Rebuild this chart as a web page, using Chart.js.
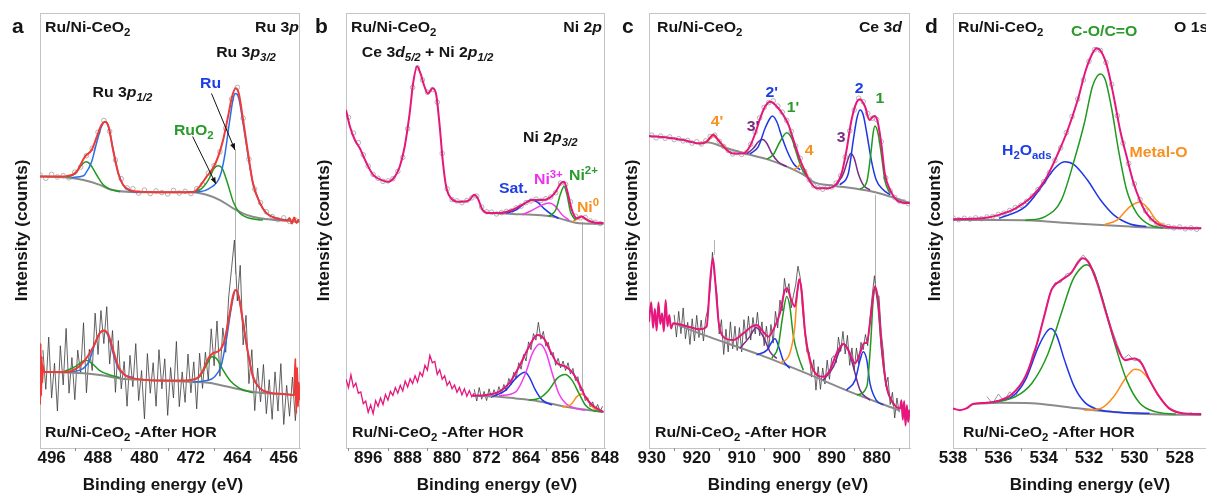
<!DOCTYPE html>
<html><head><meta charset="utf-8">
<script src="https://cdn.jsdelivr.net/npm/chart.js@4.4.0/dist/chart.umd.min.js"></script>
<style>
html,body{margin:0;padding:0;background:#fff;overflow:hidden;}
#wrap{position:relative;width:1206px;height:495px;overflow:hidden;background:#fff;}
canvas{position:absolute;top:0;}
</style></head><body><div id="wrap">
<canvas id="ca" width="305" height="495" style="left:0px;width:305px;height:495px"></canvas>
<canvas id="cb" width="315" height="495" style="left:305px;width:315px;height:495px"></canvas>
<canvas id="cc" width="305" height="495" style="left:610px;width:305px;height:495px"></canvas>
<canvas id="cd" width="305" height="495" style="left:912px;width:305px;height:495px"></canvas>
</div>
<script>
// ================= DATA =================
// ---- Panel a : Ru 3p ----
const aTicks = [496, 488, 480, 472, 464, 456];
const aMinor = [492, 484, 476, 468, 460];
const aTopRaw = [62.8,62.0,62.9,62.3,62.6,62.1,63.4,64.6,67.2,68.9,72.6,75.3,72.8,66.2,61.9,59.8,59.6,58.6,59.3,58.5,59.1,58.7,58.4,59.2,58.6,59.0,58.5,59.6,60.6,63.2,64.9,68.1,73.5,80.2,82.9,75.8,66.4,59.5,56.4,54.3,53.2,52.5,52.9,52.1,52.4]; // 498 -> 454 eV, 1 eV
const aTopEnv = [[498,62.4],[495.5,62.4],[493.4,62.5],[491.7,63.5],[490.25,67.0],[489.1,68.5],[488.2,71.6],[487.4,74.3],[486.8,75.0],[486.2,73.9],[485.4,68.5],[484.5,63.1],[483.7,60.5],[482.5,59.3],[480.8,58.9],[476,58.8],[471.6,58.8],[470.5,60.1],[469.3,62.4],[468.2,64.3],[467.3,67.0],[466.45,70.8],[465.6,76.2],[464.9,80.8],[464.3,82.7],[463.75,81.5],[463.0,75.4],[462.15,67.7],[461.3,60.8],[460.1,56.3],[459.0,54.0],[457.3,52.8],[455.4,52.3],[455.0,52.9],[454.6,51.6],[454.2,53.0],[453.8,51.7],[453.4,52.6]];
const aTopBg = [[498,62.4],[493.4,62.2],[490.5,61.6],[487.7,60.5],[486.0,59.5],[483.1,58.9],[480,58.8],[471.6,58.8],[469.3,58.2],[467.0,57.0],[464.7,55.1],[462.4,53.6],[460.1,52.8],[457.3,52.4],[453.25,52.0]];
const aTopRu1 = [[492.6,62.2],[490.5,62.6],[490.25,62.9],[489.1,65.8],[488.2,70.4],[487.4,73.9],[486.8,75.0],[486.2,73.9],[485.4,68.5],[484.5,63.1],[483.7,60.5],[482.5,59.1],[481,58.8]];
const aTopRu2 = [[472.2,58.8],[470.5,58.9],[468.8,59.7],[467.0,62.4],[466.2,67.0],[465.3,75.4],[464.7,80.4],[464.3,81.5],[463.75,80.4],[463.0,74.6],[462.15,67.3],[461.3,60.8],[460.1,56.3],[459.0,54.0],[457.3,52.8],[455.5,52.4]];
const aTopOx1 = [[493.4,62.2],[491.95,63.1],[490.8,65.1],[490.1,65.8],[489.4,65.3],[488.2,62.7],[487.1,60.5],[486.0,59.5],[484.25,58.9]];
const aTopOx2 = [[472.7,58.8],[470.5,59.3],[469.0,61.6],[468.0,64.3],[467.3,64.9],[466.6,64.3],[465.6,60.5],[464.7,56.6],[463.6,54.0],[461.9,52.8],[459.6,52.4]];
const aBotRaw = [22.5,13.5,25.5,11.5,19.5,8.5,23.5,14.5,27.5,12.6,20.8,11.1,22.5,17.1,28.8,12.7,22.7,17.8,31.0,21.5,31.6,24.0,32.5,19.3,27.0,12.8,24.7,13.6,19.9,9.6,21.3,14.1,24.0,10.9,17.8,6.7,21.7,12.6,19.6,9.6,22.6,13.6,20.5,7.5,18.5,11.5,24.5,9.5,17.5,10.5,21.6,12.7,19.8,9.0,21.8,13.7,22.0,15.6,27.4,18.9,29.2,16.5,27.6,22.0,34.5,41.2,47.8,33.8,42.0,23.7,30.5,14.8,22.6,8.6,18.4,10.6,19.2,7.9,15.7,6.6,17.5,8.5,19.4,5.4,14.4,7.3,16.3,6.3,15.2]; // 497.5 -> 453.5, 0.5 eV
const aBotEnv = [[498.0,10],[497.9,24],[497.8,12],[497.7,21],[497.6,15],[497.5,19],[497.4,17.5],[493.4,17.5],[491.7,18.3],[490.25,20.2],[488.8,23.3],[487.7,26.4],[487.0,27.0],[486.2,26.0],[485.4,22.5],[484.5,18.7],[483.4,16.8],[481.9,16.0],[479.1,15.6],[473.3,15.5],[471.0,16.0],[469.9,17.9],[469.0,20.6],[468.2,21.8],[467.0,22.5],[466.2,24.8],[465.3,31.0],[464.7,35.2],[464.3,36.3],[463.75,34.8],[463.0,28.7],[462.15,21.8],[461.3,16.4],[460.1,13.7],[458.4,12.7],[456.1,12.4],[454.2,12.2],[454.0,20.5],[453.85,8.0],[453.7,18.5],[453.55,9.5],[453.4,15],[453.25,11]];
const aBotBg = [[497.4,17.5],[490.5,17.2],[487.7,16.8],[484.25,16.0],[479.1,15.6],[471.6,15.2],[469.0,15.0],[467.0,14.5],[463.0,13.3],[460.1,12.7],[456.1,12.4],[453.8,12.2]];
const aBotRu1 = [[493.4,17.5],[491.1,17.9],[489.6,19.8],[488.5,24.1],[487.7,26.4],[487.0,27.0],[486.2,25.6],[485.4,21.8],[484.5,18.3],[483.4,16.8],[481.9,16.2]];
const aBotRu2 = [[471.6,15.2],[469.3,15.5],[467.9,16.4],[466.75,19.1],[465.9,24.8],[465.0,32.5],[464.3,36.3],[463.75,34.8],[463.0,28.7],[462.15,21.8],[461.3,16.4],[460.1,13.7],[458.4,12.7]];
const aBotOx1 = [[494.0,17.5],[491.95,18.7],[490.8,19.8],[490.1,20.2],[489.1,19.5],[487.7,17.8],[486.0,16.8],[484.25,16.2]];
const aBotOx2 = [[472.7,15.5],[470.5,16.4],[469.3,19.1],[468.4,21.0],[467.6,20.6],[466.45,17.9],[465.3,15.6],[463.6,13.7],[461.3,12.7]];

// ---- Panel b : Ni 2p ----
const bTicks = [896, 888, 880, 872, 864, 856, 848];
const bMinor = [900, 892, 884, 876, 868, 860, 852];
const bTopRaw = [76.0,72.4,70.2,67.4,64.8,62.9,62.0,61.3,61.4,61.9,63.6,66.8,73.4,82.9,87.4,84.6,81.8,82.4,79.5,67.7,59.6,57.1,56.8,56.4,56.9,57.5,57.9,55.4,54.3,54.2,53.8,54.1,54.4,54.5,55.2,55.6,56.4,56.8,57.2,56.9,57.3,57.7,58.7,60.9,60.6,56.6,53.3,52.9,53.0,52.2,51.9,51.6]; // 900 -> 849, 1 eV
const bTopEnv = [[900.5,77.7],[899.7,73.9],[898.7,70.8],[897.7,68.9],[896.3,65.4],[895.0,62.8],[893.3,61.6],[892.0,61.2],[890.6,62.4],[889.6,64.7],[888.6,69.3],[887.6,76.9],[886.9,83.8],[886.1,87.7],[885.4,86.1],[884.6,83.1],[883.9,81.5],[882.9,82.7],[882.2,81.1],[881.5,73.9],[880.9,66.2],[880.2,60.1],[879.2,57.4],[877.5,56.6],[875.5,57.0],[874.5,58.2],[873.8,57.4],[872.8,54.7],[871.5,54.0],[869.5,54.0],[866.8,54.7],[864.8,55.9],[862.7,57.0],[861.0,57.0],[859.4,57.4],[858.0,58.9],[857.0,60.8],[856.3,61.2],[855.7,59.3],[854.7,54.7],[853.7,52.8],[852.7,53.2],[851.6,52.4],[849.9,51.8],[848.3,51.7]];
const bTopBg = [[871.5,54.0],[868,53.9],[866.8,53.8],[862.7,53.6],[858.7,53.2],[856.0,52.4],[854.0,51.8],[848.3,51.5]];
const bTopSat = [[868.1,54.0],[866.1,54.7],[864.4,56.1],[863.0,57.0],[861.7,56.5],[860.4,55.1],[858.7,53.6],[857.4,52.8]];
const bTopNi3 = [[864.8,53.6],[862.7,54.7],[860.7,55.9],[859.4,56.3],[858.0,55.5],[856.7,53.6],[855.3,52.4]];
const bTopNi2 = [[859.4,53.2],[858.0,54.7],[857.0,58.5],[856.3,60.1],[855.7,58.2],[855.0,54.3],[854.0,52.4]];
const bTopNi0 = [[854.7,52.0],[853.3,52.8],[852.7,53.2],[851.8,52.6],[850.6,51.8]];
const bBotPink = [15.8,13.9,16.8,14.0,14.9,12.6,12.9,10.2,10.8,8.2,9.9,7.9,10.9,9.6,11.5,10.0,12.3,11.0,13.0,12.1,13.9,12.6,14.4,13.1,15.4,14.0,15.9,14.8,16.6,15.2,17.4,16.5,19.0,17.9,21.3,19.6,19.9,16.9,18.0,15.8,16.6,14.4,15.3,13.6,14.5,12.8,13.9,12.2,13.6,11.9,13.2,11.8,12.6]; // 900.5 -> 874.5, 0.5 eV
const bBotRaw = [13.5,10.8,13.9,11.2,13.0,10.9,13.6,11.5,13.4,12.0,14.1,12.5,14.6,13.2,16.0,14.6,17.4,16.0,19.6,18.1,21.5,20.0,24.4,22.6,26.3,24.8,28.9,25.0,26.8,23.4,24.3,21.4,22.0,19.0,20.6,18.4,20.0,17.8,19.6,17.0,18.3,15.5,16.4,13.2,13.6,10.9,11.6,9.5,10.6,8.8,10.0,8.4,9.6]; // 874.5 -> 848.5, 0.5 eV
const bBotEnv = [[874.8,12.0],[872.1,12.2],[869.5,12.9],[867.4,14.9],[865.4,18.7],[863.4,23.3],[861.7,26.0],[860.4,25.2],[859.0,22.1],[857.7,19.5],[856.0,18.7],[854.7,17.5],[853.3,14.9],[852.0,11.8],[850.6,9.9],[849.3,8.9],[848.3,8.3]];
const bBotBg = [[874.8,12.0],[869.5,11.8],[866.1,11.4],[862.7,11.0],[859.4,10.3],[856.0,9.5],[852.7,8.9],[848.3,8.3]];
const bBotSat = [[870.8,11.8],[868.1,13.3],[866.1,16.0],[864.8,17.2],[864.2,17.4],[863.4,16.4],[862.1,13.3],[860.7,11.0],[858.7,9.9]];
const bBotNi3 = [[869.5,12.0],[866.1,12.9],[864.1,17.2],[862.7,21.8],[861.2,23.9],[860.0,22.1],[858.7,17.2],[857.4,12.6],[856.0,10.3],[854.0,9.1],[852.0,8.7]];
const bBotNi2 = [[863.4,11.0],[861.4,11.4],[859.4,13.3],[857.7,16.0],[856.1,16.9],[854.7,15.6],[853.3,12.6],[852.0,9.9],[850.6,8.7],[848.6,8.3]];
const bBotNi0 = [[856.7,9.5],[855.0,9.9],[853.7,11.8],[852.8,12.4],[851.8,11.7],[850.6,9.5],[849.3,8.6]];

// ---- Panel c : Ce 3d ----
const cTicks = [930, 920, 910, 900, 890, 880];
const cMinor = [925, 915, 905, 895, 885, 875];
const cTopRaw = [71.9,71.3,71.7,71.2,71.5,70.9,71.1,70.6,70.7,70.1,70.4,69.9,70.6,71.6,71.9,70.5,69.3,68.4,67.6,67.9,67.5,67.9,69.8,72.6,75.9,78.3,79.4,79.8,78.6,77.2,75.3,72.8,69.4,66.6,63.6,61.7,60.3,59.8,59.5,59.9,60.0,60.9,62.6,66.9,72.9,77.7,80.4,79.6,76.9,75.8,75.5,70.4,62.1,59.1,57.6,56.8,56.6,56.2]; // 930 -> 873, 1 eV
const cTopEnv = [[930.6,71.7],[926.7,71.4],[923.0,70.8],[919.3,70.0],[917.8,70.4],[916.3,72.0],[915.2,70.8],[913.7,68.9],[911.9,67.7],[909.6,67.7],[908.2,69.3],[907.0,72.3],[905.9,75.8],[904.8,78.5],[903.6,79.6],[902.2,78.5],[900.8,76.6],[899.6,74.3],[898.5,70.8],[897.4,67.4],[896.7,65.4],[895.9,63.5],[894.8,61.2],[893.3,59.7],[891.1,59.7],[888.9,60.8],[887.8,63.1],[886.7,68.5],[885.6,75.4],[884.4,79.6],[883.7,80.2],[882.6,78.5],[881.6,75.4],[880.8,76.2],[880.4,76.3],[879.7,74.6],[878.9,69.3],[878.2,63.1],[877.0,59.3],[875.6,57.0],[874.1,56.4],[872.6,56.3]];
const cTopBg = [[919.3,70.0],[917.8,70.3],[913.3,68.9],[908.9,67.6],[904.4,66.4],[900.0,64.7],[895.6,62.4],[894.1,61.2],[889.6,60.3],[885.2,59.7],[880.8,58.9],[877.0,57.8],[872.6,56.3]];
const cTop4p = [[919.3,69.9],[917.4,70.8],[916.3,71.7],[915.2,70.6],[913.3,68.9]];
const cTop3p = [[908.9,67.6],[907.4,68.9],[906.3,70.4],[905.3,70.9],[904.4,70.0],[903.3,67.7],[901.9,65.8],[900.0,64.7]];
const cTop2p = [[908.2,67.6],[906.3,69.3],[904.8,73.5],[903.7,75.8],[903.2,76.3],[902.2,75.0],[901.1,71.6],[900.0,68.5],[898.5,65.4],[897.0,63.9]];
const cTop1p = [[904.4,66.4],[903.0,67.4],[901.5,70.4],[900.0,72.5],[898.9,71.2],[897.8,67.7],[896.7,64.3],[895.6,62.5]];
const cTop4 = [[898.5,63.9],[897.4,64.7],[896.8,65.4],[896.2,64.3],[895.2,62.4]];
const cTop3 = [[888.9,60.5],[887.4,63.1],[886.3,66.6],[885.8,67.7],[885.0,66.6],[884.1,63.1],[883.0,60.5],[881.5,59.3]];
const cTop2 = [[888.2,60.5],[886.3,63.1],[885.2,70.8],[884.4,75.8],[883.7,77.7],[883.0,76.6],[882.2,72.3],[881.2,66.2],[880.1,61.6],[878.5,59.3],[877.0,58.2]];
const cTop1 = [[883.7,59.5],[882.2,61.2],[881.3,67.7],[880.8,72.3],[880.4,74.0],[879.7,72.3],[878.9,67.0],[878.2,61.6],[877.0,58.5]];
const cBotRaw = [30.6,25.5,31.4,26.3,32.2,25.1,28.9,23.8,29.7,24.6,30.5,25.4,29.4,24.6,29.8,32.0,36.6,45.0,39.0,35.5,26.2,29.5,21.5,27.3,22.1,29.0,22.8,28.0,22.4,27.7,22.1,29.5,24.9,30.3,24.8,30.0,26.2,31.2,25.8,29.0,23.5,28.0,22.7,28.4,24.1,31.4,27.6,34.0,31.5,39.0,35.7,37.8,32.2,35.1,37.5,41.8,39.2,32.0,27.0,22.0,22.0,16.3,20.3,13.3,18.7,13.5,18.4,14.7,20.2,15.8,20.7,21.2,19.6,25.5,22.2,26.8,21.6,25.9,19.0,23.0,17.8,23.0,19.3,24.3,22.6,26.1,23.5,29.7,35.0,39.6,34.5,35.0,26.6,22.0,14.2,16.3,10.0,12.8,6.9,11.5,8.2]; // 925 -> 875, 0.5 eV
const cBotEnv = [[930.6,29.0],[930.1,33.5],[929.7,27.6],[929.3,32.0],[928.9,27.0],[928.5,33.5],[928.1,28.5],[927.7,31.0],[927.3,26.8],[926.9,34.0],[926.5,28.0],[926.1,30.6],[925.7,27.5],[925.2,28.7],[922.2,28.0],[919.3,27.3],[917.8,27.9],[917.0,38.6],[916.4,43.6],[915.9,38.6],[915.1,28.7],[914.1,25.6],[911.9,24.8],[909.6,26.4],[907.8,27.9],[906.7,28.3],[905.2,26.7],[904.1,25.6],[903.0,27.1],[901.5,31.0],[900.4,36.3],[899.9,36.7],[899.1,34.4],[898.2,32.5],[897.6,36.3],[897.2,38.8],[896.7,36.3],[895.9,26.4],[894.8,20.2],[893.3,16.8],[891.9,16.4],[890.4,17.9],[888.9,21.8],[887.4,23.9],[886.3,22.5],[884.8,19.5],[883.7,21.8],[882.8,24.1],[882.2,24.2],[881.5,28.7],[880.8,34.8],[880.4,37.1],[879.7,34.0],[878.9,23.3],[877.8,14.1],[876.3,10.3],[874.8,9.1],[874.5,11.0],[874.2,6.5],[873.9,10.8],[873.6,5.2],[873.3,9.8],[873.0,6.0],[872.7,8.8]];
const cBotBg = [[925.2,28.7],[918.5,26.0],[905.9,21.4],[894.8,16.8],[885.9,12.9],[874.8,8.6]];
const cBot3p = [[910.4,22.9],[908.2,25.6],[906.8,27.7],[905.2,25.6],[903.7,22.1],[902.2,20.6]];
const cBot2p = [[906.7,21.4],[904.4,22.5],[903.1,24.7],[902.6,25.1],[901.9,23.7],[900.8,20.2],[899.3,18.3]];
const cBot1p = [[903.3,20.6],[901.9,23.3],[900.9,30.2],[900.0,34.8],[899.3,32.5],[898.5,25.6],[897.4,21.0],[896.3,17.9]];
const cBot4 = [[901.5,19.5],[899.3,21.8],[898.2,27.9],[897.6,36.3],[897.2,38.8],[896.7,36.3],[895.9,26.4],[894.8,19.5],[893.3,16.8]];
const cBot3 = [[891.9,15.6],[889.6,18.7],[888.2,22.5],[887.4,23.9],[886.3,22.5],[885.2,18.7],[883.7,13.3],[881.5,11.0]];
const cBot2 = [[886.7,13.3],[884.8,15.6],[883.7,20.2],[883.0,22.1],[882.2,20.2],[881.5,14.9],[880.1,11.0],[878.5,9.9]];
const cBot1 = [[884.4,12.2],[882.2,14.1],[881.3,24.8],[880.8,34.0],[880.4,36.7],[879.7,32.5],[878.9,22.5],[877.8,14.1],[876.3,9.9]];

// ---- Panel d : O 1s ----
const dTicks = [538, 536, 534, 532, 530, 528];
const dMinor = [537, 535, 533, 531, 529];
const dTopRaw = [52.9,52.5,52.8,52.6,52.9,52.7,53.1,53.2,53.7,54.0,54.6,55.3,55.8,56.7,57.9,59.4,61.2,63.3,66.1,69.0,72.5,76.2,80.2,84.6,88.9,91.6,91.4,88.6,83.6,76.4,70.1,65.4,60.7,57.1,54.5,52.7,51.6,51.2,50.9,50.6,50.8,50.4,50.6,50.3]; // 538 -> 527.25, 0.25 eV
const dTopEnv = [[538.0,52.6],[536.7,52.8],[535.97,53.6],[535.24,55.1],[534.52,57.8],[533.94,61.6],[533.37,67.7],[532.94,73.1],[532.5,80.0],[532.14,86.9],[531.85,90.7],[531.67,91.9],[531.46,91.1],[531.2,87.7],[530.91,80.8],[530.63,73.1],[530.34,67.0],[530.05,61.2],[529.76,57.0],[529.47,54.0],[529.04,51.7],[528.61,50.9],[527.89,50.6],[527.05,50.5]];
const dTopBg = [[538.0,52.4],[535.97,52.4],[534.52,52.3],[533.08,51.8],[531.64,51.3],[530.19,50.9],[528.75,50.6],[527.05,50.5]];
const dTopH2O = [[535.97,52.8],[534.81,55.5],[534.09,60.1],[533.51,64.3],[533.08,65.8],[532.65,65.1],[532.07,61.6],[531.49,57.0],[530.91,53.6],[530.19,51.5],[529.47,50.9]];
const dTopCO = [[534.81,52.3],[533.94,53.2],[533.22,57.0],[532.65,66.2],[532.21,74.6],[531.85,83.1],[531.64,85.5],[531.49,86.0],[531.28,84.6],[530.99,77.7],[530.70,68.5],[530.34,59.3],[529.90,54.0],[529.33,51.3],[528.75,50.6]];
const dTopMO = [[531.35,51.3],[530.77,52.4],[530.19,55.5],[529.76,56.5],[529.40,55.1],[529.04,52.4],[528.61,50.9]];
const dBotRaw = [11.8,10.2,12.4,10.8,12.9,11.7,14.6,16.2,21.4,24.6,30.2,35.2,38.0,38.0,40.0,40.4,43.0,44.4,42.8,40.3,35.8,31.5,27.4,23.8,20.4,21.5,20.0,20.4,17.6,15.0,12.3,10.8,9.0,8.6,8.2,7.7,8.1,7.6]; // 536.5 -> 527.25, 0.25 eV
const dBotEnv = [[538.0,9.1],[537.7,8.7],[537.41,9.1],[537.12,10.1],[536.54,10.4],[535.97,10.9],[535.39,12.4],[534.81,16.4],[534.38,22.5],[533.94,31.0],[533.66,36.3],[533.22,38.6],[532.79,40.2],[532.5,42.5],[532.29,43.6],[532.0,42.5],[531.64,37.9],[531.2,30.2],[530.77,23.3],[530.41,20.2],[530.02,20.6],[529.69,19.5],[529.33,15.6],[528.9,11.8],[528.46,9.1],[527.89,8.0],[527.05,7.8]];
const dBotBg = [[537.12,10.1],[535.97,10.4],[534.52,10.3],[533.08,9.5],[531.64,8.6],[530.19,8.0],[528.75,7.7],[527.05,7.6]];
const dBotH2O = [[536.26,10.6],[535.39,11.8],[534.81,15.6],[534.23,23.3],[533.87,26.7],[533.68,27.5],[533.44,26.0],[533.08,20.2],[532.65,14.1],[532.21,10.6],[531.64,8.9],[530.91,8.3],[529.33,8.0]];
const dBotCO = [[536.26,10.4],[535.24,11.8],[534.52,14.9],[533.80,21.8],[533.22,31.0],[532.72,38.6],[532.29,41.7],[532.10,42.1],[531.78,40.2],[531.35,33.3],[530.91,24.8],[530.34,15.6],[529.76,10.3],[529.04,8.3],[528.17,7.8]];
const dBotMO = [[532.21,8.7],[531.49,9.1],[530.91,11.8],[530.34,16.4],[529.98,18.1],[529.76,17.9],[529.33,15.6],[528.90,11.8],[528.46,9.1],[528.03,8.1]];

// ================= STYLE / HELPERS =================
const FONT = '"Liberation Sans", Arial, Helvetica, sans-serif';
Chart.defaults.font.family = FONT;
const TXT = '#151515', BORDER = '#c4c4c4';
const RED = '#ef3a37', PINK = '#e5167c', BLUEA = '#2a6de4', BLUE = '#1f37e6', GREEN = '#1f991f',
      MAG = '#f23cf0', ORANGE = '#ff8b1a', PURPLE = '#7a2a88', GRAY = '#8b8b8b', RAWC = '#a9a9a9', NOISE = '#3c3c3c';
const LBLUE = '#1d3ee6', LGREEN = '#2a9a2a', LORANGE = '#f8901f', LPURPLE = '#7a2a84', LMAG = '#ee2ef0';
const SX = 1.13;

const pts = arr => arr.map(([x, y]) => ({x, y}));
const grid = (x0, dx, ys) => ys.map((y, i) => ({x: Math.round((x0 + i * dx) * 100) / 100, y}));
const L = (arr, color, w) => ({data: pts(arr), borderColor: color, backgroundColor: color, borderWidth: w, pointRadius: 0, fill: false, cubicInterpolationMode: 'monotone'});
const N = (data, color, w) => ({data, borderColor: color, backgroundColor: color, borderWidth: w, pointRadius: 0, fill: false, tension: 0});
const C = (data) => ({data, showLine: false, pointRadius: 2.3, pointStyle: 'circle', borderColor: RAWC, backgroundColor: 'rgba(255,255,255,0)', borderWidth: 0.9});

function drawRich(ctx, parts, x, y, size, color, align, sx) {
  ctx.save();
  ctx.translate(x, y);
  ctx.scale(sx, 1);
  let w = 0;
  const segs = parts.map(p => {
    const txt = p[0], st = p[1] || '';
    const small = st.includes('sub') || st.includes('sup');
    const s = small ? size * 0.72 : size;
    const font = (st.startsWith('i') ? 'italic ' : '') + 'bold ' + s + 'px ' + FONT;
    ctx.font = font;
    const mw = ctx.measureText(txt).width;
    const dy = st.includes('sub') ? size * 0.28 : (st.includes('sup') ? -size * 0.42 : 0);
    const seg = {txt, font, x: w, dy};
    w += mw;
    return seg;
  });
  const ox = align === 'center' ? -w / 2 : (align === 'right' ? -w : 0);
  ctx.fillStyle = color; ctx.textBaseline = 'alphabetic'; ctx.textAlign = 'left';
  segs.forEach(s => { ctx.font = s.font; ctx.fillText(s.txt, ox + s.x, s.dy); });
  ctx.restore();
}
function arrow(ctx, x0, y0, x1, y1) {
  ctx.beginPath(); ctx.moveTo(x0, y0); ctx.lineTo(x1, y1); ctx.stroke();
  const ang = Math.atan2(y1 - y0, x1 - x0), Lh = 7;
  ctx.beginPath(); ctx.moveTo(x1, y1);
  ctx.lineTo(x1 - Lh * Math.cos(ang - 0.38), y1 - Lh * Math.sin(ang - 0.38));
  ctx.lineTo(x1 - Lh * Math.cos(ang + 0.38), y1 - Lh * Math.sin(ang + 0.38));
  ctx.closePath(); ctx.fill();
}
function makeDeco(cfg) {
  return {
    id: 'deco',
    beforeDatasetsDraw(chart) {
      const {ctx, chartArea: a, scales: {x, y}} = chart;
      ctx.save();
      ctx.strokeStyle = BORDER; ctx.lineWidth = 1;
      ctx.beginPath();
      ctx.moveTo(a.left, a.top + 0.5); ctx.lineTo(a.right, a.top + 0.5);
      ctx.moveTo(a.right - 0.5, a.top); ctx.lineTo(a.right - 0.5, a.bottom);
      ctx.stroke();
      // minor tick marks below the axis
      ctx.strokeStyle = '#8f8f8f';
      ctx.beginPath();
      (cfg.minor || []).forEach(e => {
        const px = Math.round(x.getPixelForValue(e)) + 0.5;
        if (px >= a.left && px <= a.right) { ctx.moveTo(px, a.bottom); ctx.lineTo(px, a.bottom + 3); }
      });
      ctx.stroke();
      ctx.strokeStyle = '#b2b2b2';
      (cfg.vlines || []).forEach(([e, v0, v1]) => {
        const px = Math.round(x.getPixelForValue(e)) + 0.5;
        ctx.beginPath(); ctx.moveTo(px, y.getPixelForValue(v0)); ctx.lineTo(px, y.getPixelForValue(v1)); ctx.stroke();
      });
      ctx.restore();
    },
    afterDraw(chart) {
      const {ctx, chartArea: a, scales: {x, y}} = chart;
      ctx.save();
      ctx.strokeStyle = '#111'; ctx.fillStyle = '#111'; ctx.lineWidth = 1;
      (cfg.arrows || []).forEach(([e0, v0, e1, v1]) => arrow(ctx, x.getPixelForValue(e0), y.getPixelForValue(v0), x.getPixelForValue(e1), y.getPixelForValue(v1)));
      (cfg.labels || []).forEach(l => {
        const px = l.e !== undefined ? x.getPixelForValue(l.e) : l.px - cfg.left;
        const py = l.v !== undefined ? y.getPixelForValue(l.v) : l.py;
        drawRich(ctx, l.t, px, py, l.s || 14, l.c || TXT, l.a || 'left', l.sx || SX);
      });
      ctx.font = 'bold 17px ' + FONT; ctx.fillStyle = TXT; ctx.textAlign = 'center'; ctx.textBaseline = 'middle';
      ctx.fillText('Binding energy (eV)', cfg.xtCenter - cfg.left, 485);
      ctx.restore();
    }
  };
}
function makePanel(cfg) {
  return new Chart(document.getElementById(cfg.id), {
    type: 'line',
    data: {datasets: cfg.datasets},
    options: {
      responsive: false, animation: false, devicePixelRatio: 1, events: [],
      layout: {padding: {top: 13, right: cfg.padR, bottom: 0, left: 0}},
      plugins: {legend: {display: false}, tooltip: {enabled: false}},
      scales: {
        x: {type: 'linear', reverse: true, min: cfg.xmin, max: cfg.xmax,
            afterBuildTicks: s => { s.ticks = cfg.ticks.map(v => ({value: v})); },
            afterFit: s => { s.height = 47; s.paddingLeft = 0; s.paddingRight = 0; },
            ticks: {autoSkip: false, maxRotation: 0, padding: 0, color: TXT, font: {size: 17, weight: 'bold'}},
            grid: {display: false, drawTicks: false},
            border: {display: true, color: BORDER, width: 1}},
        y: {min: 0, max: 100,
            afterFit: s => { s.width = cfg.yw; s.paddingTop = 0; s.paddingBottom = 0; },
            ticks: {display: false}, grid: {display: false, drawTicks: false},
            border: {display: true, color: BORDER, width: 1},
            title: {display: true, text: 'Intensity (counts)', color: TXT, font: {size: 17, weight: 'bold'}, padding: {top: cfg.ytp, bottom: 0}}}
      }
    },
    plugins: [makeDeco(cfg)]
  });
}
const CEO = [['Ru/Ni-CeO'], ['2', 'sub']];
const HOR = [['Ru/Ni-CeO'], ['2', 'sub'], [' -After HOR']];

// ================= PANELS =================
makePanel({
  id: 'ca', left: 0, yw: 40, padR: 5, ytp: 12, xmin: 453.2, xmax: 498, ticks: aTicks, minor: aMinor, xtCenter: 163,
  datasets: [
    L(aTopEnv, RED, 2), L(aTopRu1, BLUEA, 1.5), L(aTopRu2, BLUEA, 1.5), L(aTopOx1, GREEN, 1.5), L(aTopOx2, GREEN, 1.5), L(aTopBg, GRAY, 2),
    L(aBotEnv, RED, 2), L(aBotRu1, BLUEA, 1.5), L(aBotRu2, BLUEA, 1.5), L(aBotOx1, GREEN, 1.5), L(aBotOx2, GREEN, 1.5), L(aBotBg, GRAY, 2),
    C(grid(498, -1, aTopRaw)), N(grid(497.5, -0.5, aBotRaw), NOISE, 0.8)
  ],
  vlines: [[464.35, 68.5, 40]],
  arrows: [[468.45, 81.5, 464.4, 68.5], [471.7, 71.6, 467.7, 60.7]],
  labels: [
    {t: [['a']], px: 12, py: 33, s: 21, sx: 1},
    {t: CEO, px: 45, py: 32},
    {t: [['Ru 3'], ['p', 'i']], px: 299, py: 32, a: 'right'},
    {t: [['Ru 3'], ['p', 'i'], ['3/2', 'isub']], e: 462.5, v: 89.9, a: 'center'},
    {t: [['Ru 3'], ['p', 'i'], ['1/2', 'isub']], e: 483.8, v: 80.7, a: 'center'},
    {t: [['Ru']], e: 468.6, v: 82.8, a: 'center', c: LBLUE},
    {t: [['RuO'], ['2', 'sub']], e: 471.5, v: 72.0, a: 'center', c: LGREEN},
    {t: HOR, px: 45, py: 437}
  ]
});
makePanel({
  id: 'cb', left: 305, yw: 41, padR: 15, ytp: 9, xmin: 848, xmax: 900.5, ticks: bTicks, minor: bMinor, xtCenter: 497,
  datasets: [
    L(bTopEnv, PINK, 2), L(bTopNi2, GREEN, 1.5), L(bTopNi0, ORANGE, 1.5), L(bTopNi3, MAG, 1.5), L(bTopSat, BLUE, 1.5), L(bTopBg, GRAY, 2),
    N(grid(900.5, -0.5, bBotPink), PINK, 1.3),
    L(bBotEnv, PINK, 2), L(bBotNi2, GREEN, 1.5), L(bBotNi0, ORANGE, 1.5), L(bBotNi3, MAG, 1.5), L(bBotSat, BLUE, 1.5), L(bBotBg, GRAY, 2),
    C(grid(900, -1, bTopRaw)), N(grid(874.5, -0.5, bBotRaw), NOISE, 0.8)
  ],
  vlines: [[852.7, 52.0, 12.9]],
  labels: [
    {t: [['b']], px: 315, py: 33, s: 21, sx: 1},
    {t: CEO, px: 351, py: 32},
    {t: [['Ni 2'], ['p', 'i']], px: 602, py: 32, a: 'right'},
    {t: [['Ce 3'], ['d', 'i'], ['5/2', 'isub'], [' + Ni 2'], ['p', 'i'], ['1/2', 'isub']], e: 897.3, v: 89.9},
    {t: [['Ni 2'], ['p', 'i'], ['3/2', 'isub']], e: 864.6, v: 70.3},
    {t: [['Sat.']], e: 869.5, v: 58.7, c: LBLUE},
    {t: [['Ni'], ['3+', 'sup']], e: 862.4, v: 60.8, c: LMAG},
    {t: [['Ni'], ['2+', 'sup']], e: 855.3, v: 61.6, c: LGREEN},
    {t: [['Ni'], ['0', 'sup']], e: 853.7, v: 54.3, c: LORANGE},
    {t: HOR, px: 352, py: 437}
  ]
});
makePanel({
  id: 'cc', left: 610, yw: 39, padR: 5, ytp: 12, xmin: 872.6, xmax: 930.6, ticks: cTicks, minor: cMinor, xtCenter: 788,
  datasets: [
    L(cTopEnv, PINK, 2), L(cTop1, GREEN, 1.5), L(cTop2, BLUE, 1.5), L(cTop3, PURPLE, 1.5), L(cTop4, ORANGE, 1.5),
    L(cTop1p, GREEN, 1.5), L(cTop2p, BLUE, 1.5), L(cTop3p, PURPLE, 1.5), L(cTop4p, ORANGE, 1.5), L(cTopBg, GRAY, 2),
    L(cBotEnv, PINK, 2), L(cBot1, GREEN, 1.5), L(cBot2, BLUE, 1.5), L(cBot3, PURPLE, 1.5), L(cBot4, ORANGE, 1.5),
    L(cBot1p, GREEN, 1.5), L(cBot2p, BLUE, 1.5), L(cBot3p, PURPLE, 1.5), L(cBotBg, GRAY, 2),
    C(grid(930, -1, cTopRaw)), N(grid(925, -0.5, cBotRaw), NOISE, 0.8)
  ],
  vlines: [[880.4, 58.2, 37.9], [916.2, 47.8, 44.4]],
  labels: [
    {t: [['c']], px: 622, py: 33, s: 21, sx: 1},
    {t: CEO, px: 657, py: 32},
    {t: [['Ce 3'], ['d', 'i']], px: 902, py: 32, a: 'right'},
    {t: [["4'"]], e: 915.5, v: 74.0, a: 'center', c: LORANGE},
    {t: [["3'"]], e: 907.5, v: 72.9, a: 'center', c: LPURPLE},
    {t: [["2'"]], e: 903.3, v: 80.7, a: 'center', c: LBLUE},
    {t: [["1'"]], e: 898.6, v: 77.2, a: 'center', c: LGREEN},
    {t: [['4']], e: 895.0, v: 67.4, a: 'center', c: LORANGE},
    {t: [['3']], e: 887.9, v: 70.3, a: 'center', c: LPURPLE},
    {t: [['2']], e: 883.9, v: 81.6, a: 'center', c: LBLUE},
    {t: [['1']], e: 879.3, v: 79.3, a: 'center', c: LGREEN},
    {t: HOR, px: 655, py: 437}
  ]
});
makePanel({
  id: 'cd', left: 912, yw: 41, padR: 0, ytp: 13, xmin: 526.57, xmax: 538, ticks: dTicks, minor: dMinor, xtCenter: 1090,
  datasets: [
    L(dTopEnv, PINK, 2), L(dTopCO, GREEN, 1.5), L(dTopMO, ORANGE, 1.5), L(dTopH2O, BLUE, 1.5), L(dTopBg, GRAY, 2),
    L(dBotEnv, PINK, 2), L(dBotCO, GREEN, 1.5), L(dBotMO, ORANGE, 1.5), L(dBotH2O, BLUE, 1.5), L(dBotBg, GRAY, 2),
    C(grid(538, -0.25, dTopRaw)), N(grid(536.5, -0.25, dBotRaw), '#9a9a9a', 1)
  ],
  labels: [
    {t: [['d']], px: 925, py: 33, s: 21, sx: 1},
    {t: CEO, px: 958, py: 32},
    {t: [['O 1s']], px: 1174, py: 32},
    {t: [['C-O/C=O']], e: 531.33, v: 94.8, a: 'center', c: LGREEN},
    {t: [['H'], ['2', 'sub'], ['O'], ['ads', 'sub']], e: 535.84, v: 67.4, c: LBLUE},
    {t: [['Metal-O']], e: 530.21, v: 66.8, c: LORANGE},
    {t: HOR, px: 963, py: 437}
  ]
});
</script></body></html>
